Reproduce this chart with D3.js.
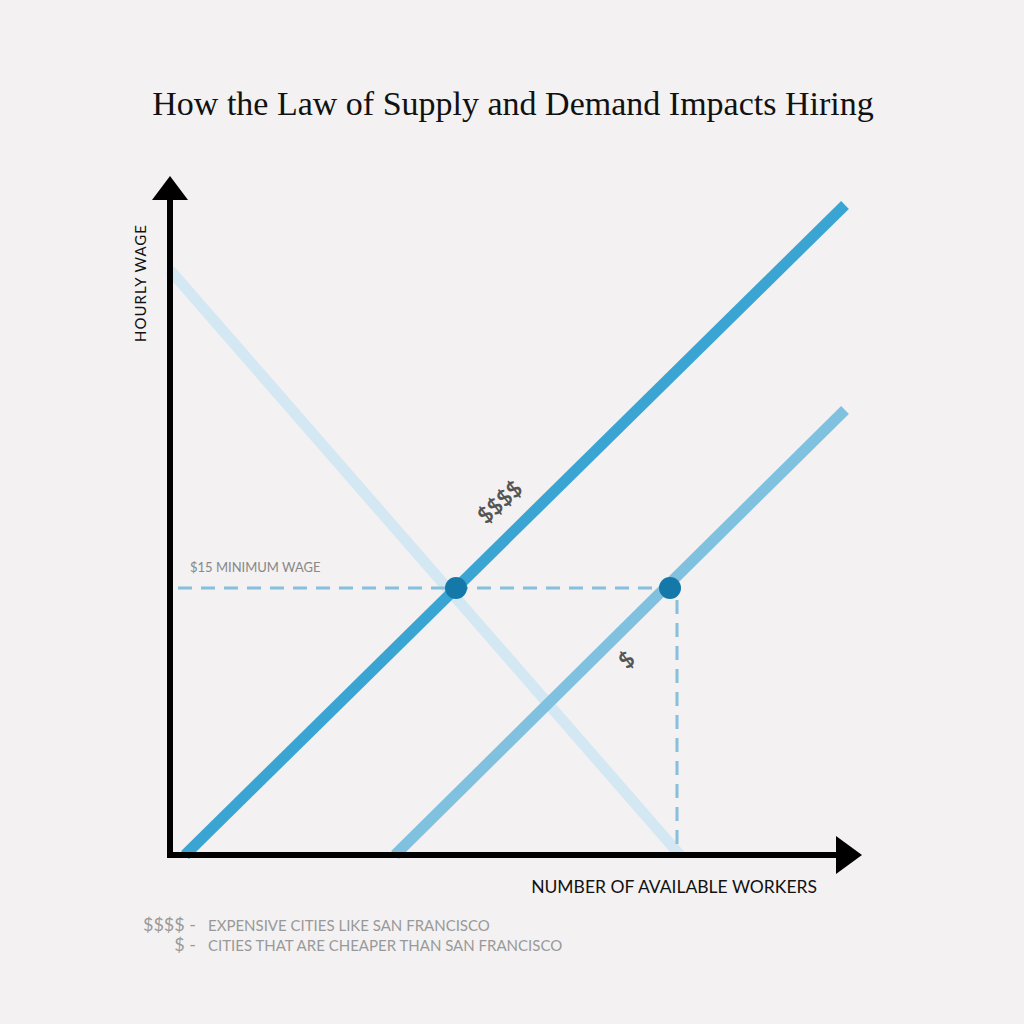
<!DOCTYPE html>
<html><head><meta charset="utf-8">
<script src="https://cdn.jsdelivr.net/npm/d3@7"></script>
<style>body{margin:0;background:#f3f1f1;}</style>
</head><body>
<script>
// data in chart units (workers, wage)
var curves = [
  {name: 'demand', pts: [[0, 585], [510, 0]], color: '#d3e8f2', width: 11},
  {name: 'cheap', pts: [[225, 0], [675, 445]], color: '#80c1df', width: 11},
  {name: 'expensive', pts: [[15, 0], [675, 650]], color: '#3aa4d2', width: 11}
];
var minWage = 267;
var equilibria = [[286, 267], [500, 267]];
var legendLines = [['$$$$', 'EXPENSIVE CITIES LIKE SAN FRANCISCO'], ['$', 'CITIES THAT ARE CHEAPER THAN SAN FRANCISCO']];

var svg = d3.select('body').append('svg').attr('width', 1024).attr('height', 1024);
svg.append('rect').attr('width', 1024).attr('height', 1024).attr('fill', '#f3f1f1');

var x = d3.scaleLinear().domain([0, 675]).range([170, 845]);
var y = d3.scaleLinear().domain([0, 660]).range([855, 195]);

svg.append('text').attr('x', 513).attr('y', 115).attr('text-anchor', 'middle')
  .attr('font-family', 'Liberation Serif, serif').attr('font-size', 34).attr('fill', '#111')
  .text('How the Law of Supply and Demand Impacts Hiring');

var line = d3.line().x(function(d) { return x(d[0]); }).y(function(d) { return y(d[1]); });
svg.selectAll('.curve').data(curves).enter().append('path')
  .attr('d', function(d) { return line(d.pts); })
  .attr('stroke', function(d) { return d.color; })
  .attr('stroke-width', function(d) { return d.width; }).attr('fill', 'none');

// dashed guides
svg.append('line').attr('x1', x(8)).attr('x2', x(500)).attr('y1', y(minWage)).attr('y2', y(minWage))
  .attr('stroke', '#86c0dc').attr('stroke-width', 3).attr('stroke-dasharray', '14,9');
svg.append('line').attr('x1', x(507)).attr('x2', x(507)).attr('y1', y(minWage) + 12).attr('y2', y(0))
  .attr('stroke', '#86c0dc').attr('stroke-width', 3).attr('stroke-dasharray', '14,9');

svg.selectAll('.pt').data(equilibria).enter().append('circle')
  .attr('cx', function(d) { return x(d[0]); }).attr('cy', function(d) { return y(d[1]); })
  .attr('r', 11).attr('fill', '#1478a8');

// axes with arrows
svg.append('line').attr('x1', x(0)).attr('x2', x(0)).attr('y1', y(0) + 3).attr('y2', 198)
  .attr('stroke', '#000').attr('stroke-width', 6);
svg.append('line').attr('x1', x(0) - 3).attr('x2', 840).attr('y1', y(0)).attr('y2', y(0))
  .attr('stroke', '#000').attr('stroke-width', 6);
svg.append('path').attr('d', 'M152,200 L170,176 L188,200 Z').attr('fill', '#000');
svg.append('path').attr('d', 'M836,836 L862,855 L836,874 Z').attr('fill', '#000');

var sans = 'Lato, Open Sans, sans-serif';
svg.append('text').attr('transform', 'translate(146,342) rotate(-90)')
  .attr('font-family', sans).attr('font-size', 15).attr('fill', '#111').attr('letter-spacing', 1)
  .text('HOURLY WAGE');
svg.append('text').attr('x', 817).attr('y', 893).attr('text-anchor', 'end')
  .attr('font-family', sans).attr('font-size', 17.5).attr('fill', '#111')
  .text('NUMBER OF AVAILABLE WORKERS');
svg.append('text').attr('x', 190).attr('y', 572)
  .attr('font-family', sans).attr('font-size', 13).attr('fill', '#888')
  .text('$15 MINIMUM WAGE');

svg.append('text').attr('transform', 'translate(486,525) rotate(-42)')
  .attr('font-family', sans).attr('font-size', 22).attr('font-weight', 'bold').attr('fill', '#555')
  .text('$$$$');
svg.append('text').attr('transform', 'translate(627,670) rotate(-42)')
  .attr('font-family', sans).attr('font-size', 22).attr('font-weight', 'bold').attr('fill', '#555')
  .text('$');

legendLines.forEach(function(l, i) {
  var yy = 931 + i * 20;
  svg.append('text').attr('x', 196).attr('y', yy).attr('text-anchor', 'end')
    .attr('font-family', sans).attr('font-size', 18).attr('fill', '#999').text(l[0] + ' -');
  svg.append('text').attr('x', 208).attr('y', yy)
    .attr('font-family', sans).attr('font-size', 15).attr('fill', '#999').text(l[1]);
});
</script>
</body></html>
